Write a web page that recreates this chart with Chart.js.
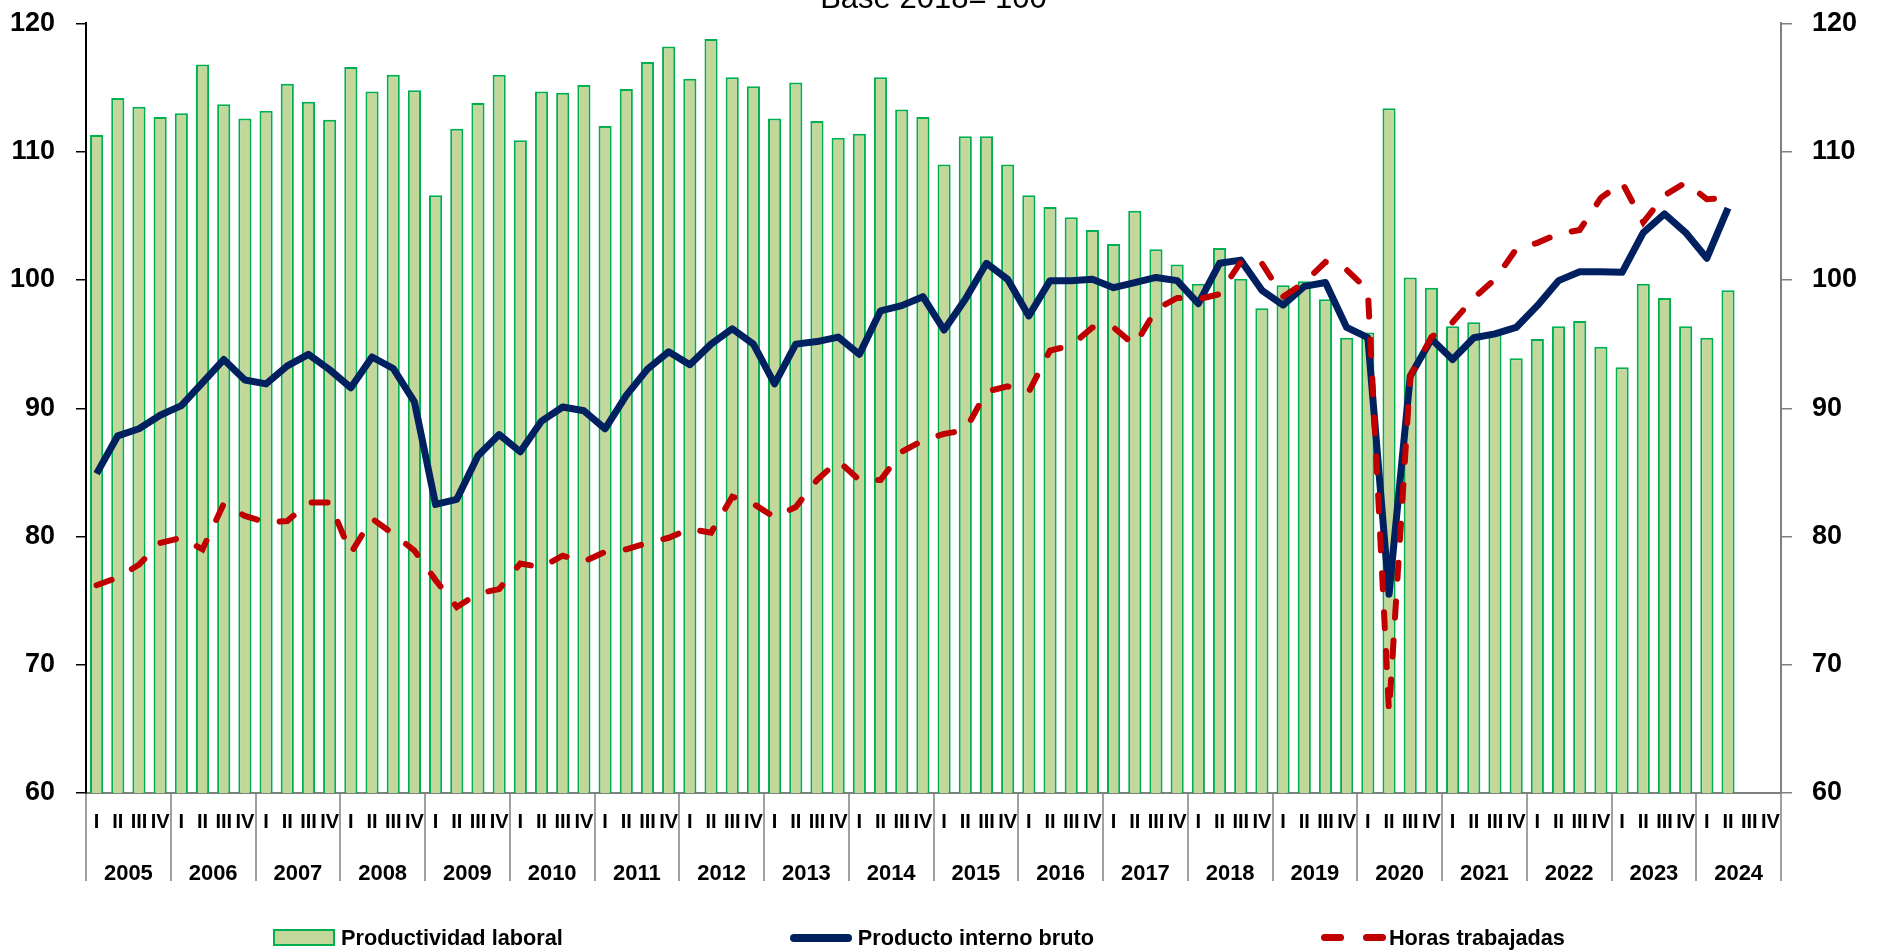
<!DOCTYPE html>
<html>
<head>
<meta charset="utf-8">
<script src="https://cdn.jsdelivr.net/npm/chart.js@4"></script>
<style>
html, body { margin: 0; padding: 0; background: #fff; }
#wrap { position: relative; width: 1877px; height: 952px; overflow: hidden; }
#legend { position: absolute; left: 273px; top: 924px; display: flex; gap: 227px;
  font: bold 21.7px 'Liberation Sans', Arial, sans-serif; color: #000; line-height: 28px; }
.item { display: flex; align-items: center; }
.sw { width: 62px; height: 28px; margin-right: 6px; position: relative; }
</style>
</head>
<body>
<div id="wrap">
  <canvas id="chart" width="1877" height="952"></canvas>
  <div id="legend"></div>
</div>
<script>
const years = ['2005','2006','2007','2008','2009','2010','2011','2012','2013','2014',
               '2015','2016','2017','2018','2019','2020','2021','2022','2023','2024'];
const quarters = ['I','II','III','IV'];
const yTicks = [60, 70, 80, 90, 100, 110, 120];

const productividad = [
  111.3, 114.2, 113.5, 112.7,
  113.0, 116.8, 113.7, 112.6,
  113.2, 115.3, 113.9, 112.5,
  116.6, 114.7, 116.0, 114.8,
  106.6, 111.8, 113.8, 116.0,
  110.9, 114.7, 114.6, 115.2,
  112.0, 114.9, 117.0, 118.2,
  115.7, 118.8, 115.8, 115.1,
  112.6, 115.4, 112.4, 111.1,
  111.4, 115.8, 113.3, 112.7,
  109.0, 111.2, 111.2, 109.0,
  106.6, 105.7, 104.9, 103.9,
  102.8, 105.4, 102.4, 101.2,
  99.7, 102.5, 100.1, 97.8,
  99.6, 99.9, 98.5, 95.5,
  95.9, 113.4, 100.2, 99.4,
  96.4, 96.7, 95.8, 93.9,
  95.4, 96.4, 96.8, 94.8,
  93.2, 99.7, 98.6, 96.4,
  95.5, 99.2, null, null
];
const pib = [
  84.9, 87.85, 88.4, 89.45,
  90.2, 92.0, 93.8, 92.2,
  91.9, 93.3, 94.2, 93.0,
  91.6, 94.0, 93.1, 90.5,
  82.5, 82.9, 86.3, 87.95,
  86.6, 89.0, 90.1, 89.8,
  88.4, 91.0, 93.05, 94.4,
  93.4, 95.0, 96.2, 95.0,
  91.9, 95.0, 95.2, 95.55,
  94.2, 97.6, 98.0, 98.7,
  96.1, 98.5, 101.3, 100.05,
  97.2, 99.95, 99.95, 100.05,
  99.4, 99.8, 100.2, 99.95,
  98.15, 101.3, 101.55, 99.2,
  98.05, 99.5, 99.8, 96.3,
  95.5, 75.5, 92.5, 95.4,
  93.8, 95.5, 95.8, 96.3,
  98.0, 99.95, 100.65, 100.65,
  100.6, 103.7, 105.15, 103.7,
  101.7, 105.6, null, null
];
const horas = [
  76.2, 76.8, 77.8, 79.5,
  79.9, 79.0, 82.55, 81.6,
  81.1, 81.2, 82.65, 82.65,
  78.7, 81.4, 80.2, 78.9,
  76.6, 74.5, 75.55, 75.9,
  77.9, 77.6, 78.5, 78.05,
  78.8, 79.0, 79.5, 79.9,
  80.6, 80.3, 83.1, 82.55,
  81.5, 82.3, 84.4, 85.9,
  84.4, 84.4, 86.6, 87.5,
  88.0, 88.3, 91.3, 91.7,
  91.3, 94.5, 94.9, 96.3,
  96.3, 94.9, 97.7, 98.6,
  98.5, 98.9, 101.4, 101.3,
  98.7, 99.8, 101.4, 100.8,
  99.2, 66.3, 92.5, 95.55,
  96.7, 98.6, 100.05, 102.4,
  102.9, 103.6, 103.9, 106.4,
  107.6, 104.5, 106.6, 107.6,
  106.3, 106.4, null, null
];

const labels = years.flatMap(() => quarters);
const family = "'Liberation Sans', Arial, sans-serif";
// separators only at year boundaries (every 4th quarter) and the last edge
const sepColor = ctx => (ctx.index === undefined || ctx.index % 4 === 0) ? '#a0a0a0' : 'rgba(0,0,0,0)';

const yAxis = (pos, lineCol, tickLen, pad) => ({
  position: pos,
  min: 60, max: 120,
  afterBuildTicks: s => { s.ticks = yTicks.map(v => ({ value: v })); },
  afterFit: s => { s.width = 76; s.paddingTop = 0; s.paddingBottom = 0; },
  grid: { drawOnChartArea: false, tickLength: tickLen, color: lineCol, lineWidth: 1.5 },
  border: { color: lineCol, width: 2 },
  ticks: { color: '#000', padding: pad, font: { family: family, size: 27, weight: 'bold' } }
});

const chart = new Chart(document.getElementById('chart').getContext('2d'), {
  data: {
    labels: labels,
    datasets: [{
      type: 'bar', label: 'Productividad laboral', data: productividad,
      backgroundColor: '#c4d79b', borderColor: '#00b050', borderWidth: 2,
      barPercentage: 0.62, categoryPercentage: 1, order: 2
    }, {
      type: 'line', label: 'Producto interno bruto', data: pib,
      borderColor: '#002060', borderWidth: 7, pointRadius: 0, tension: 0,
      borderJoinStyle: 'round', order: 1
    }, {
      type: 'line', label: 'Horas trabajadas', data: horas,
      borderColor: '#c00000', borderWidth: 6, borderDash: [16, 23], borderCapStyle: 'round',
      pointRadius: 0, tension: 0, order: 0
    }]
  },
  options: {
    responsive: false,
    animation: false,
    layout: { padding: { left: 10, right: 20, top: 0, bottom: 69 } },
    plugins: {
      legend: { display: false },
      tooltip: { enabled: false },
      title: {
        display: true, text: 'Base 2018= 100', color: '#000',
        font: { family: family, size: 31, weight: 'normal' },
        padding: { top: -18.7, bottom: 5 }
      }
    },
    scales: {
      x: {
        offset: true, weight: 0,
        afterFit: s => { s.height = 47; },
        grid: { offset: true, drawOnChartArea: false, tickLength: 88, lineWidth: 2, color: sepColor, tickColor: sepColor },
        border: { color: '#808080', width: 2 },
        ticks: { autoSkip: false, maxRotation: 0, minRotation: 0, padding: -71, color: '#000',
                 font: { family: family, size: 20, weight: 'bold' } }
      },
      x2: {
        type: 'category', labels: years, position: 'bottom', offset: true, weight: 1,
        afterFit: s => { s.height = 43; },
        grid: { display: false }, border: { display: false },
        ticks: { autoSkip: false, maxRotation: 0, padding: 13, color: '#000',
                 font: { family: family, size: 22, weight: 'bold' } }
      },
      y: yAxis('left', '#000', 10, 21),
      y2: yAxis('right', '#808080', 11, 20)
    }
  }
});

// HTML legend built from the chart's datasets
const legend = document.getElementById('legend');
chart.data.datasets.forEach(ds => {
  const item = document.createElement('div');
  item.className = 'item';
  const sw = document.createElement('div');
  sw.className = 'sw';
  if (ds.type === 'bar') {
    sw.innerHTML = '<div style="position:absolute;left:0;top:5px;width:58px;height:13px;background:' +
      ds.backgroundColor + ';border:2px solid ' + ds.borderColor + '"></div>';
  } else if (!ds.borderDash) {
    sw.innerHTML = '<div style="position:absolute;left:0;top:10px;width:62px;height:8px;border-radius:4px;background:' +
      ds.borderColor + '"></div>';
  } else {
    sw.innerHTML = '<div style="position:absolute;left:0;top:10px;width:23px;height:7px;border-radius:4px;background:' +
      ds.borderColor + '"></div><div style="position:absolute;left:42px;top:10px;width:23px;height:7px;border-radius:4px;background:' +
      ds.borderColor + '"></div>';
  }
  item.appendChild(sw);
  const txt = document.createElement('span');
  txt.textContent = ds.label;
  item.appendChild(txt);
  legend.appendChild(item);
});
</script>
</body>
</html>
